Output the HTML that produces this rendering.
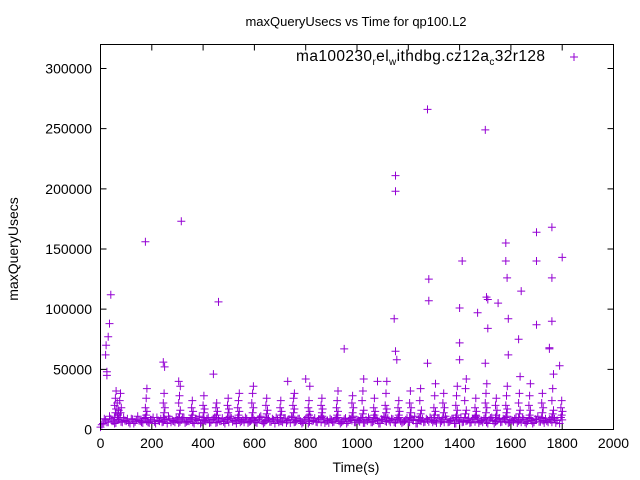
<!DOCTYPE html>
<html><head><meta charset="utf-8"><style>
html,body{margin:0;padding:0;background:#fff;}
svg{display:block;font-family:"Liberation Sans",sans-serif;}
</style></head><body>
<svg id="chart" width="640" height="480">
<rect x="0" y="0" width="640" height="480" fill="#fff"/>
<text x="356" y="26" font-size="13" text-anchor="middle">maxQueryUsecs vs Time for qp100.L2</text>
<text transform="translate(18,249) rotate(-90)" font-size="14" text-anchor="middle">maxQueryUsecs</text>
<text x="356" y="472" font-size="14" text-anchor="middle">Time(s)</text>
<g id="axes"></g>
<g id="marks"></g>
<g>
<text x="545" y="61" font-size="15.5" text-anchor="end" textLength="249" lengthAdjust="spacing">ma100230<tspan font-size="10" dy="4">r</tspan><tspan dy="-4">el</tspan><tspan font-size="10" dy="4">w</tspan><tspan dy="-4">ithdbg.cz12a</tspan><tspan font-size="10" dy="4">c</tspan><tspan dy="-4">32r128</tspan></text>
<path d="M570,57h8M574,53v8" stroke="#9400d3" stroke-width="1"/>
</g>
<rect x="100.5" y="44.5" width="513" height="385" fill="none" stroke="#000"/>
</svg>
<script>
const xTicks=[0,200,400,600,800,1000,1200,1400,1600,1800,2000];
const yTicks=[0,50000,100000,150000,200000,250000,300000];
const baseVals=[2000,5000,8000,6000,9000,7000,5500,8500,6500,10000,7000,6000,9000,5000,8000,7500,6000,9500,7000,5500,8000,6500,10000,7000,6000,8500,5000,9000,7500,6000,8000,6500,9500,5500,7000,8500,6000,9000,7500,5000,8000,7000,10000,6000,8500,5500,9000,7000,6500,8000,6000,9500,7500,5000,8500,7000,6000,9000,6500,8000,7500,5500,10000,7000,6000,8500,6500,9000,5000,8000,7000,6000,9500,7500,5500,8500,6500,9000,7000,6000,8000,5000,10000,7500,6500,8500,6000,9000,7000,5500,8000,6500,9500,7000,6000,8500,5000,9000,7500,6000,8000,6500,10000,5500,7000,8500,6000,9000,7500,5000,8000,7000,9500,6000,8500,5500,9000,7000,6500,8000,6000,10000,7500,5000,8500,7000,6000,9000,6500,8000,7500,5500,9500,7000,6000,8500,6500,9000,5000,8000,7000,6000,10000,7500,5500,8500,6500,9000,7000,6000,8000,5000,9500,7500,6500,8500,6000,9000,7000,5500,8000,6500,10000,7000,6000,8500,5000,9000,7500,6000,8000,6500,9500,5500,7000,8500,6000,9000,7500,5000,8000];
const base2Vals=[4000,9000,6000,11000,7000,5000,8000,10000,6000,7500,9000,5000,8500,6500,11000,7000,5500,9000,6000,8000,10000,5000,7500,9000,6500,8000,11000,6000,7000,9500,5500,8000,10000,6500,7000,9000,5000,8500,11000,6000,7500,9000,5500,8000,10000,6000,7000,9500,5000,8500,11000,6500,7500,9000,6000,8000,10000,5500,7000,9500,6000,8500,11000,5000,7500,9000,6500,8000,10000,6000,7000,9500,5500,8500,11000,6000,7500,9000,5000,8000,10000,6500,7000,9500,6000,8500,11000,5500,7500,9000,6000,8000,10000,5000,7000,9500,6500,8500,11000,6000,7500,9000,5500,8000,10000,6000,7000,9500,5000,8500,11000,6500,7500,9000,6000,8000,10000,5500,7000,9500,6000,8500,11000,5000,7500,9000,6500,8000,10000,6000,7000,9500,5500,8500,11000,6000,7500,9000,5000,8000,10000,6500,7000,9500,6000,8500,11000,5500,7500,9000,6000,8000,10000,5000,7000,9500,6500,8500,11000,6000,7500,9000,5500,8000,10000,6000,7000,9500,5000,8500,11000,6500,7500,9000,6000,8000,10000,5500];
const clusterTimes=[55,65,75,175,245,305,355,400,450,495,535,590,645,700,750,810,860,920,980,1020,1065,1110,1160,1205,1245,1300,1335,1385,1420,1460,1500,1540,1580,1630,1670,1720,1760,1795];
const clusterVals=[[10000,14000,17000,20000,26000,32000],[10000,13000,16000,22000,12000],[10000,14000,18000,24000,30000],[10000,12000,15000,18000,26000,34000],[10000,14000,18000,22000,30000],[10000,13000,16000,22000,28000,36000,40000],[10000,12000,15000,18000,24000],[10000,14000,17000,20000,28000],[10000,12000,15000,18000,22000],[10000,14000,17000,20000,26000],[10000,12000,15000,18000,24000,30000],[10000,14000,18000,22000,30000,36000],[10000,13000,16000,20000,26000],[10000,12000,15000,18000,24000],[10000,14000,17000,20000,26000,30000],[10000,12000,15000,18000,24000,36000],[10000,14000,17000,20000,26000],[10000,12000,15000,18000,24000,32000],[10000,14000,18000,22000,28000],[10000,13000,16000,24000,32000,42000],[10000,12000,15000,18000,26000],[10000,14000,17000,20000,30000,40000],[10000,12000,15000,18000,24000],[10000,14000,18000,22000,32000],[10000,13000,16000,24000,34000],[10000,12000,15000,18000,28000,38000],[10000,14000,18000,22000,30000],[10000,12000,16000,20000,28000,36000],[10000,13000,16000,24000,34000,42000],[10000,12000,15000,18000,26000],[10000,14000,18000,22000,30000,38000],[10000,12000,16000,20000,26000],[10000,14000,17000,20000,28000,36000],[10000,13000,16000,22000,30000,44000],[10000,12000,16000,20000,28000,38000],[10000,14000,18000,22000,30000],[10000,13000,16000,24000,34000,46000],[10000,12000,15000,18000,24000]];
const outT=[25,25,20,22,30,35,40,175,315,245,250,460,440,950,1145,1150,1150,1150,1155,1275,1280,1280,1275,1410,1400,1400,1400,1500,1505,1510,1510,1500,1470,1580,1580,1585,1590,1590,1550,1640,1630,1700,1700,1700,1760,1760,1760,1750,1750,1800,1790,730,800,1080];
const outV=[48000,45000,62000,70000,77000,88000,112000,156000,173000,56000,52000,106000,46000,67000,92000,211000,198000,65000,58000,266000,125000,107000,55000,140000,101000,72000,58000,249000,110000,108000,84000,55000,97000,155000,140000,126000,92000,62000,105000,115000,75000,164000,140000,87000,168000,126000,90000,68000,67000,143000,53000,40000,42000,40000];
const X=t=>100.5+t*513/2000, Y=v=>429.5-v*361/300000;
const NS='http://www.w3.org/2000/svg';
const axes=document.getElementById('axes'), marks=document.getElementById('marks');
function mk(tag,attrs,parent){const e=document.createElementNS(NS,tag);for(const k in attrs)e.setAttribute(k,attrs[k]);parent.appendChild(e);return e;}
xTicks.forEach(t=>{
  const l=mk('path',{d:`M${X(t)},429.5v-6M${X(t)},44.5v6`,stroke:'#000'},axes);
  
  
  const tx=mk('text',{x:X(t),y:448,'font-size':14,'text-anchor':'middle'},axes);tx.textContent=t;
  
  
});
yTicks.forEach(v=>{
  const l=mk('path',{d:`M100.5,${Y(v)}h6M613.5,${Y(v)}h-6`,stroke:'#000'},axes);
  
  
  const tx=mk('text',{x:92,y:Y(v)+5,'font-size':14,'text-anchor':'end'},axes);tx.textContent=v;
  
  
});
let d='';
const plus=(t,v)=>{const x=X(t),y=Y(v);d+=`M${(x-4).toFixed(1)},${y.toFixed(1)}h8M${x.toFixed(1)},${(y-4).toFixed(1)}v8`;};
baseVals.forEach((v,i)=>plus(i*10,v));
base2Vals.forEach((v,i)=>plus(i*10+5,v));
clusterTimes.forEach((t,i)=>clusterVals[i].forEach((v,j)=>plus(t+(j%3)*3,v)));
outT.forEach((t,i)=>plus(t,outV[i]));
const p=mk('path',{d:d,stroke:'#9400d3','stroke-width':1,fill:'none'},marks);


</script>
</body></html>
